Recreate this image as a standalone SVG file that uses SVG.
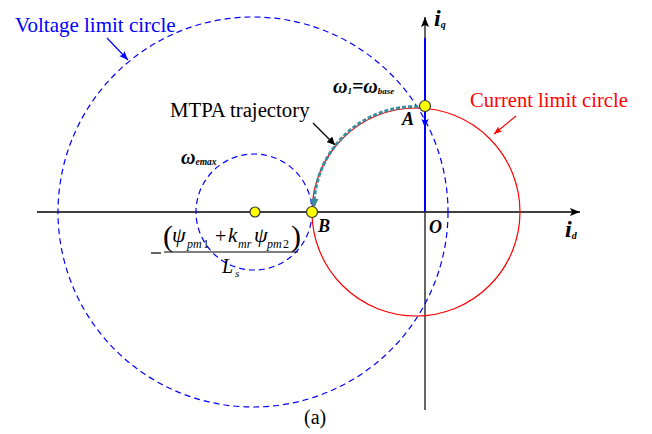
<svg xmlns="http://www.w3.org/2000/svg" width="652" height="434" viewBox="0 0 652 434">
<defs>
<marker id="ab" viewBox="0 0 10 10" refX="10" refY="5" markerWidth="8" markerHeight="8" markerUnits="userSpaceOnUse" orient="auto"><path d="M0,0 L10,5 L0,10 z" fill="#000"/></marker>
<marker id="abig" viewBox="0 0 10 10" refX="10" refY="5" markerWidth="10" markerHeight="10" markerUnits="userSpaceOnUse" orient="auto"><path d="M0,1 L10,5 L0,9 L2,5 z" fill="#000"/></marker>
<marker id="ablue" viewBox="0 0 10 10" refX="10" refY="5" markerWidth="9" markerHeight="9" markerUnits="userSpaceOnUse" orient="auto"><path d="M0,1 L10,5 L0,9 L2,5 z" fill="#0000ff"/></marker>
<marker id="ared" viewBox="0 0 10 10" refX="10" refY="5" markerWidth="8" markerHeight="8" markerUnits="userSpaceOnUse" orient="auto"><path d="M0,1 L10,5 L0,9 L2,5 z" fill="#ff0000"/></marker>
<marker id="ateal" viewBox="0 0 10 10" refX="8" refY="5" markerWidth="9" markerHeight="9" markerUnits="userSpaceOnUse" orient="auto"><path d="M0,0 L10,5 L0,10 z" fill="#3a8c9c"/></marker>
</defs>
<style>
.t{font-family:"Liberation Serif","Times New Roman",serif;}
.bi{font-family:"Liberation Serif","Times New Roman",serif;font-weight:bold;font-style:italic;}
.it{font-family:"Liberation Serif","Times New Roman",serif;font-style:italic;}
.dot{fill:#ffff00;stroke:#333;stroke-width:1.2;}
.vdash{fill:none;stroke:#0000ff;stroke-width:1.2;stroke-dasharray:6 4;}
</style>
<rect width="652" height="434" fill="#fff"/>
<g id="connectors">
<line x1="37" y1="212" x2="580" y2="212" stroke="#000" stroke-width="1.5" marker-end="url(#abig)"/>
<line x1="425" y1="410" x2="425" y2="17" stroke="#333" stroke-width="1.5" marker-end="url(#abig)"/>
<line x1="425" y1="38" x2="425" y2="212" stroke="#0000ff" stroke-width="2"/>
<line x1="425" y1="110" x2="425" y2="128" stroke="#0000ff" stroke-width="2" marker-end="url(#ablue)"/>
<line x1="107" y1="38" x2="128" y2="60" stroke="#0000ff" stroke-width="1.2" marker-end="url(#ablue)"/>
<line x1="516" y1="116" x2="494" y2="134" stroke="#ff0000" stroke-width="1.2" marker-end="url(#ared)"/>
<line x1="313" y1="123" x2="335" y2="145" stroke="#000" stroke-width="1.2" marker-end="url(#ab)"/>
</g>
<g id="voltage-circle"><circle cx="253" cy="212" r="195" class="vdash"/></g>
<g id="emax-circle"><circle cx="254" cy="212" r="58" class="vdash"/></g>
<g id="current-circle"><circle cx="416" cy="212" r="104" fill="none" stroke="#ff0000" stroke-width="1.2"/></g>
<g id="mtpa"><path d="M424,107 A101,101 0 0 0 314,206" fill="none" stroke="#3a8c9c" stroke-width="3" stroke-dasharray="4 2" marker-end="url(#ateal)"/></g>
<g id="point-A"><circle cx="425" cy="106" r="5.5" class="dot"/><text x="402" y="125" class="bi" font-size="18">A</text></g>
<g id="point-B"><circle cx="312" cy="212" r="5.5" class="dot"/><text x="318" y="232" class="bi" font-size="18">B</text></g>
<g id="point-center"><circle cx="255" cy="212" r="5" class="dot"/></g>
<g id="origin"><text x="429" y="233" class="bi" font-size="18">O</text></g>
<g id="axis-labels">
<text x="565" y="237" class="bi" font-size="24">i<tspan font-size="10" dy="2">d</tspan></text>
<text x="434" y="26" class="bi" font-size="24">i<tspan font-size="10" dy="2">q</tspan></text>
</g>
<g id="labels">
<text x="15" y="32" class="t" font-size="21" fill="#0000ff">Voltage limit circle</text>
<text x="470" y="107" class="t" font-size="20.6" fill="#ff0000">Current limit circle</text>
<text x="170" y="117" class="t" font-size="20.8" fill="#000">MTPA trajectory</text>
<text x="333" y="93" class="bi" font-size="20">ω<tspan font-size="9" dy="1">1</tspan><tspan dy="-1">=ω</tspan><tspan font-size="9" dy="1">base</tspan></text>
<text x="181" y="164" class="bi" font-size="20">ω<tspan font-size="9.5" dy="1">emax</tspan></text>
</g>
<g id="fraction">
<line x1="151" y1="253" x2="161" y2="253" stroke="#000" stroke-width="1.2"/>
<line x1="164" y1="252" x2="298" y2="252" stroke="#000" stroke-width="1.2"/>
<text x="163" y="246" class="t" font-size="30">(</text>
<text x="172" y="242" class="it" font-size="22">ψ</text>
<text x="187" y="248" class="it" font-size="12">pm</text><text x="203" y="248" class="t" font-size="12">1</text>
<text x="215" y="243" class="t" font-size="20">+</text>
<text x="228" y="242" class="it" font-size="21">k</text>
<text x="238" y="248" class="it" font-size="12">mr</text>
<text x="254" y="242" class="it" font-size="22">ψ</text>
<text x="267" y="248" class="it" font-size="12">pm</text><text x="283" y="248" class="t" font-size="12">2</text>
<text x="291" y="246" class="t" font-size="30">)</text>
<text x="222" y="273" class="it" font-size="20">L</text><text x="235" y="277" class="it" font-size="11">s</text>
</g>
<g id="caption"><text x="304" y="424" class="t" font-size="20">(a)</text></g>
</svg>
